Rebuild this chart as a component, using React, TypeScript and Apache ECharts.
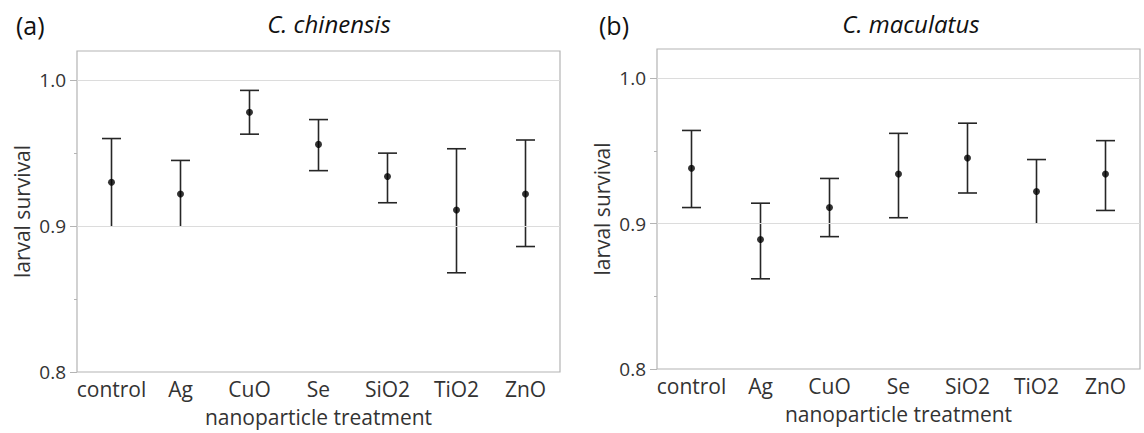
import React, { useEffect, useRef } from "react";
import * as echarts from "echarts";

const categories = ["control", "Ag", "CuO", "Se", "SiO2", "TiO2", "ZnO"];
const yTicks = [0.8, 0.9, 1.0];
const yMinorTicks = [0.85, 0.95];

// Panel (a) C. chinensis
const chinMean = [0.930, 0.922, 0.978, 0.956, 0.934, 0.911, 0.922];
const chinLow = [0.900, 0.900, 0.963, 0.938, 0.916, 0.868, 0.886];
const chinHigh = [0.960, 0.945, 0.993, 0.973, 0.950, 0.953, 0.959];
const chinLowCap = [false, false, true, true, true, true, true];

// Panel (b) C. maculatus
const macMean = [0.938, 0.889, 0.911, 0.934, 0.945, 0.922, 0.934];
const macLow = [0.911, 0.862, 0.891, 0.904, 0.921, 0.900, 0.909];
const macHigh = [0.964, 0.914, 0.931, 0.962, 0.969, 0.944, 0.957];
const macLowCap = [true, true, true, true, true, false, true];

const FONT = "Open Sans";
const TEXT = "#333333";
const FRAME = "#b4b4b4";
const GRIDC = "#dcdcdc";

function errData(low: number[], high: number[], cap: boolean[]) {
  return categories.map((_, i) => [i, low[i], high[i], cap[i] ? 1 : 0]);
}

function renderErr(params: any, api: any) {
  const x = api.value(0);
  const lo = api.coord([x, api.value(1)]);
  const hi = api.coord([x, api.value(2)]);
  const capLow = api.value(3);
  const hw = 9.5;
  const style = { stroke: "#262626", lineWidth: 1.6 };
  const children: any[] = [
    { type: "line", shape: { x1: lo[0], y1: lo[1], x2: hi[0], y2: hi[1] }, style },
    { type: "line", shape: { x1: hi[0] - hw, y1: hi[1], x2: hi[0] + hw, y2: hi[1] }, style },
  ];
  if (capLow) {
    children.push({ type: "line", shape: { x1: lo[0] - hw, y1: lo[1], x2: lo[0] + hw, y2: lo[1] }, style });
  }
  return { type: "group", children };
}

export default function App() {
  const ref = useRef<HTMLDivElement>(null);
  useEffect(() => {
    if (!ref.current) return;
    const chart = echarts.init(ref.current, null, { renderer: "svg" });
    const grids = [
      { left: 77, top: 51, width: 483, height: 321 },
      { left: 657, top: 49, width: 483, height: 320 },
    ];
    const xAxes: any[] = [];
    const yAxes: any[] = [];
    grids.forEach((_, gi) => {
      xAxes.push({
        type: "category",
        gridIndex: gi,
        data: categories,
        boundaryGap: true,
        name: "nanoparticle treatment",
        nameLocation: "middle",
        nameGap: 34,
        nameTextStyle: { fontFamily: FONT, fontSize: 21, color: TEXT },
        axisLine: { show: false },
        axisTick: { show: false },
        axisLabel: { fontFamily: FONT, fontSize: 21, color: TEXT, margin: 6, interval: 0 },
        splitLine: { show: false },
      });
      yAxes.push({
        type: "value",
        gridIndex: gi,
        position: "left",
        min: 0.8,
        max: 1.02,
        interval: 0.1,
        name: "larval survival",
        nameLocation: "middle",
        nameGap: 45,
        nameTextStyle: { fontFamily: FONT, fontSize: 21, color: TEXT },
        axisLine: { show: false },
        axisTick: { show: true, length: 7, lineStyle: { color: FRAME }, customValues: yTicks },
        axisLabel: {
          fontFamily: FONT,
          fontSize: 19,
          color: TEXT,
          margin: 11,
          customValues: yTicks,
          formatter: (v: number) => v.toFixed(1),
        },
        splitLine: { show: false },
      });
      yAxes.push({
        type: "value",
        gridIndex: gi,
        position: "left",
        min: 0.8,
        max: 1.02,
        interval: 0.05,
        axisLine: { show: false },
        axisTick: { show: true, length: 3, lineStyle: { color: FRAME }, customValues: yMinorTicks },
        axisLabel: { show: false },
        splitLine: { show: false },
      });
    });

    const gridLines = {
      silent: true,
      symbol: "none",
      label: { show: false },
      lineStyle: { color: GRIDC, type: "solid", width: 1.2 },
      data: [{ yAxis: 0.9 }, { yAxis: 1.0 }],
    };

    const panels = [
      { mean: chinMean, low: chinLow, high: chinHigh, cap: chinLowCap },
      { mean: macMean, low: macLow, high: macHigh, cap: macLowCap },
    ];
    const series: any[] = [];
    panels.forEach((p, gi) => {
      series.push({
        type: "custom",
        xAxisIndex: gi,
        yAxisIndex: gi * 2,
        renderItem: renderErr,
        data: errData(p.low, p.high, p.cap),
        encode: { x: 0, y: [1, 2] },
        markLine: gridLines,
        z: 3,
      });
      series.push({
        type: "scatter",
        xAxisIndex: gi,
        yAxisIndex: gi * 2,
        data: p.mean.map((v, i) => [i, v]),
        symbol: "circle",
        symbolSize: 7,
        itemStyle: { color: "#000" },
        z: 4,
      });
    });

    chart.setOption({
      animation: false,
      backgroundColor: "#fff",
      title: [
        { text: "(a)", left: 11, top: 7, textStyle: { fontFamily: FONT, fontSize: 25, fontWeight: "normal", color: "#111" } },
        { text: "C. chinensis", left: 324, top: 6, textAlign: "center", textStyle: { fontFamily: FONT, fontSize: 24, fontStyle: "italic", fontWeight: "normal", color: "#111" } },
        { text: "(b)", left: 594, top: 7, textStyle: { fontFamily: FONT, fontSize: 25, fontWeight: "normal", color: "#111" } },
        { text: "C. maculatus", left: 906, top: 6, textAlign: "center", textStyle: { fontFamily: FONT, fontSize: 24, fontStyle: "italic", fontWeight: "normal", color: "#111" } },
      ],
      grid: grids.map((g) => ({ ...g, show: true, borderColor: FRAME, borderWidth: 1.2, backgroundColor: "transparent", containLabel: false })),
      xAxis: xAxes,
      yAxis: yAxes,
      series,
    });
    return () => chart.dispose();
  }, []);
  return <div ref={ref} style={{ position: "fixed", left: 0, top: 0, width: 1144, height: 433 }} />;
}
